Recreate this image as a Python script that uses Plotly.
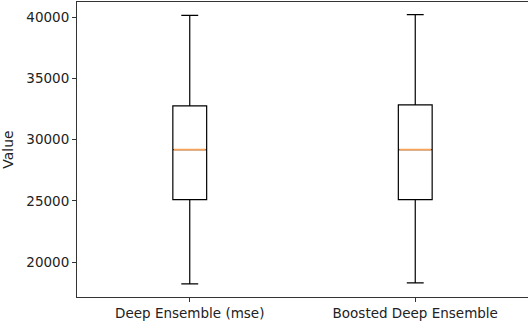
import plotly.graph_objects as go

# Summary statistics for each model's predicted values
labels = ["Deep Ensemble (mse)", "Boosted Deep Ensemble"]
positions = [1, 2]
lower_whisker = [18240, 18320]
q1 = [25100, 25110]
median = [29190, 29190]
q3 = [32750, 32830]
upper_whisker = [40140, 40190]
y_ticks = [20000, 25000, 30000, 35000, 40000]

box_width = 0.15

fig = go.Figure()

fig.add_trace(go.Box(
    x=positions,
    q1=q1,
    median=median,
    q3=q3,
    lowerfence=lower_whisker,
    upperfence=upper_whisker,
    width=box_width,
    whiskerwidth=0.5,
    fillcolor="white",
    line=dict(color="black", width=1.2),
    boxpoints=False,
    hoverinfo="skip",
    showlegend=False,
))

# Orange median lines drawn on top of each box
for p, m in zip(positions, median):
    fig.add_shape(
        type="line",
        xref="x", yref="y",
        x0=p - box_width / 2 + 0.004, x1=p + box_width / 2 - 0.004,
        y0=m, y1=m,
        line=dict(color="#f7a35c", width=1.8),
        layer="above",
    )

font = dict(family="DejaVu Sans", size=13.5, color="#222222")

fig.update_layout(
    width=528,
    height=325,
    margin=dict(l=77, r=0, t=2, b=28),
    paper_bgcolor="white",
    plot_bgcolor="white",
    font=font,
    xaxis=dict(
        range=[0.5, 2.5],
        tickmode="array",
        tickvals=positions,
        ticktext=labels,
        showline=True,
        linecolor="#333333",
        linewidth=1,
        mirror=True,
        ticks="outside",
        ticklen=4,
        tickcolor="#333333",
        showgrid=False,
        zeroline=False,
    ),
    yaxis=dict(
        range=[17165, 41225],
        tickmode="array",
        tickvals=y_ticks,
        ticktext=[str(v) for v in y_ticks],
        showline=True,
        linecolor="#333333",
        linewidth=1,
        mirror=True,
        ticks="outside",
        ticklen=4,
        tickcolor="#333333",
        showgrid=False,
        zeroline=False,
        title=dict(text="Value", standoff=9, font=dict(size=14)),
    ),
)

fig.write_html("out.html")
